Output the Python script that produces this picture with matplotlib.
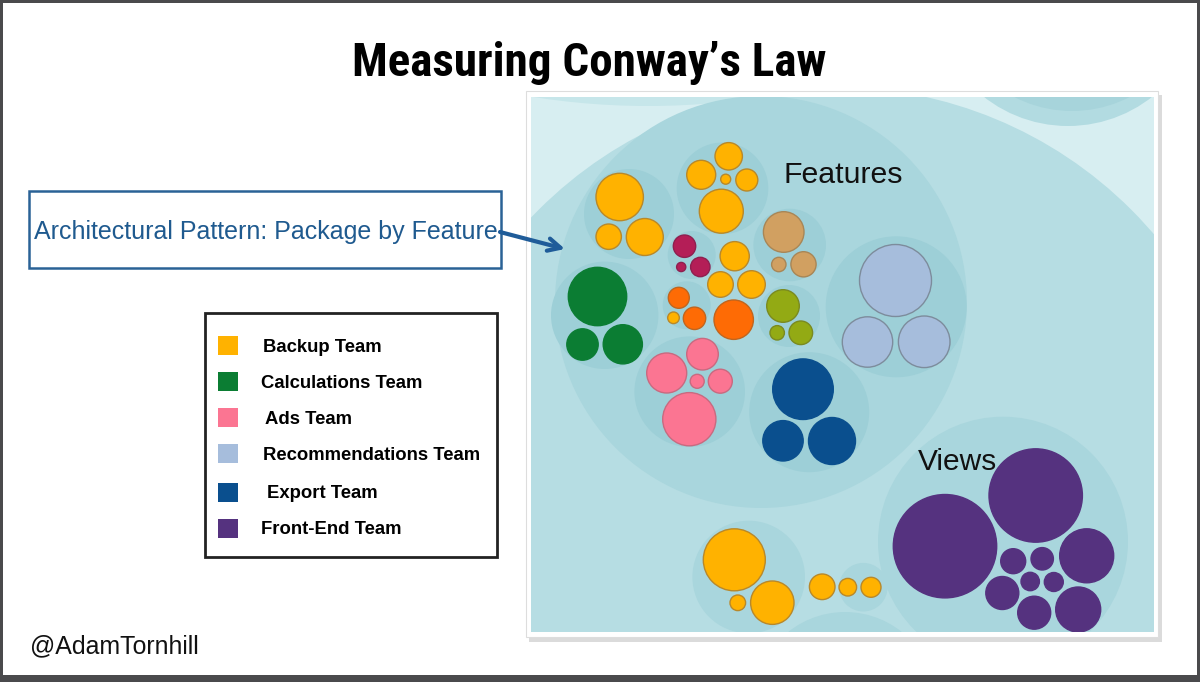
import matplotlib
matplotlib.use("Agg")
import matplotlib.pyplot as plt
from matplotlib import font_manager
from matplotlib.patches import Circle, Rectangle

# ---------------- data ----------------
title = "Measuring Conway\u2019s Law"
callout = "Architectural Pattern: Package by Feature"
credit = "@AdamTornhill"
group_labels = ["Features", "Views"]

teams = ["Backup Team", "Calculations Team", "Ads Team",
         "Recommendations Team", "Export Team", "Front-End Team"]
team_colors = ["#ffb200", "#0b7d33", "#fb7592", "#a6bddc", "#0a4f8e", "#55327f"]

# extra (unlisted) teams that appear in the packing
other_colors = {"magenta": "#b41e57", "orange": "#fe6b05", "tan": "#d1a061", "olive": "#93aa14"}

# leaf circles (x, y, r in picture units) and team key
leaf_x = [619.7, 608.7, 644.8, 728.7, 701.2, 725.7, 746.8, 721.3, 734.7, 720.5, 751.5, 673.5,
          734.3, 737.8, 772.3, 822.2, 847.8, 871.0,
          684.5, 681.2, 700.3,
          678.8, 694.5, 733.7,
          783.7, 778.8, 803.5,
          783.0, 777.2, 800.8,
          597.5, 582.5, 622.8,
          702.5, 666.7, 697.2, 720.3, 689.3,
          895.5, 867.5, 924.2,
          803.0, 783.0, 832.0,
          945.0, 1035.7, 1086.7, 1078.2, 1034.2, 1002.3, 1013.2, 1042.2, 1030.2, 1053.8]
leaf_y = [197.0, 236.7, 237.0, 156.3, 174.8, 179.2, 180.0, 211.2, 256.2, 284.5, 284.5, 317.8,
          559.8, 602.8, 602.7, 586.8, 587.2, 587.3,
          246.2, 267.0, 267.0,
          297.8, 318.3, 319.7,
          232.0, 264.5, 264.3,
          306.0, 332.8, 332.8,
          296.5, 344.5, 344.3,
          354.2, 373.0, 381.3, 381.2, 419.2,
          280.5, 342.0, 341.8,
          389.2, 440.8, 441.0,
          546.2, 495.5, 555.8, 609.5, 612.7, 593.0, 561.2, 558.8, 581.5, 582.0]
leaf_r = [23.7, 12.7, 18.5, 13.7, 14.5, 5.0, 11.0, 22.0, 14.6, 12.8, 13.8, 5.8,
          31.0, 7.8, 21.7, 12.8, 8.8, 10.0,
          11.2, 4.6, 9.7,
          10.5, 11.2, 19.7,
          20.3, 7.2, 12.6,
          16.3, 7.2, 11.8,
          29.2, 15.7, 19.6,
          15.8, 20.0, 7.0, 12.0, 26.6,
          36.0, 25.2, 25.8,
          30.3, 20.2, 23.5,
          51.7, 46.7, 27.0, 22.5, 16.5, 16.5, 12.5, 11.2, 9.2, 9.5]
leaf_team = (["Backup Team"] * 18 + ["magenta"] * 3 + ["orange"] * 3 + ["tan"] * 3 +
             ["olive"] * 3 + ["Calculations Team"] * 3 + ["Ads Team"] * 5 +
             ["Recommendations Team"] * 3 + ["Export Team"] * 3 + ["Front-End Team"] * 10)

# enclosing (package) circles: x, y, r, depth
cont_x = [835, 648, 1068, 1072, 761, 1003, 748.7, 863.3, 845,
          629, 722.5, 691.7, 789.7, 896.2, 809.2, 789, 604.7, 686.7, 689.7]
cont_y = [506, -629, -10, -15, 302, 541.7, 577, 587.2, 703,
          214, 188.3, 255, 245, 306.8, 412.2, 316, 315.3, 305.3, 391.7]
cont_r = [419, 735, 136, 126, 206, 125, 56.3, 24.3, 91,
          45, 45.8, 24, 36.3, 70.5, 60, 31, 53.7, 24, 55.3]
cont_depth = [1, 1, 1, 2, 2, 2, 2, 2, 2,
              3, 3, 3, 3, 3, 3, 3, 3, 3, 3]

# ---------------- figure ----------------
W, H = 1200, 682
fig = plt.figure(figsize=(W / 100, H / 100), dpi=100)
fig.patch.set_facecolor("#4a4a4c")
bg = fig.add_axes([0, 0, 1, 1])
bg.set_xlim(0, W)
bg.set_ylim(H, 0)
bg.axis("off")
bg.add_patch(Rectangle((3, 3), W - 6, H - 10, facecolor="white", edgecolor="none", zorder=0))

avail = {f.name for f in font_manager.fontManager.ttflist}
def pick(names, default="DejaVu Sans"):
    for n in names:
        if n in avail:
            return n
    return default

sans = pick(["Liberation Sans", "Arial", "Helvetica", "Roboto"])
narrow = pick(["Liberation Sans Narrow", "Roboto Condensed", "Open Sans Condensed", "Roboto"])

renderer = fig.canvas.get_renderer()
def fit_text(ax, x, y, s, width, **kw):
    t = ax.text(x, y, s, fontsize=20, **kw)
    w = t.get_window_extent(renderer=renderer).width
    t.set_fontsize(20 * width / w)
    return t

# title
fit_text(bg, 589, 76, title, 474, ha="center", va="baseline",
         family=narrow, fontweight="heavy", color="black")

# callout box
bg.add_patch(Rectangle((29, 191), 472, 77, facecolor="none", edgecolor="#2a6296", lw=1.8))
fit_text(bg, 34, 239, callout, 463, ha="left", va="baseline", family=sans, color="#1f5a8f")

# legend box
bg.add_patch(Rectangle((205, 313), 292, 244, facecolor="white", edgecolor="#222222", lw=2))
leg_y = [345, 381, 417, 453, 492, 528]
leg_tx = [263, 261, 265, 263, 267, 261]
for i, (name, col) in enumerate(zip(teams, team_colors)):
    bg.add_patch(Rectangle((218, leg_y[i] - 9.5), 20, 19, facecolor=col, edgecolor="none"))
t0 = fit_text(bg, leg_tx[3], leg_y[3], teams[3], 218, ha="left", va="center_baseline",
              family=sans, fontweight="bold")
fs = t0.get_fontsize()
for i, name in enumerate(teams):
    if i == 3:
        continue
    bg.text(leg_tx[i], leg_y[i], name, fontsize=fs, ha="left", va="center_baseline",
            family=sans, fontweight="bold")

# credit
fit_text(bg, 30, 653, credit, 169, ha="left", va="baseline", family=sans, color="#111111")

# panel frame with shadow
bg.add_patch(Rectangle((529, 95), 633, 547, facecolor="#9a9a9a", edgecolor="none", alpha=0.35, zorder=1))
bg.add_patch(Rectangle((526, 91), 632, 546, facecolor="white", edgecolor="#dddddd", lw=0.8, zorder=2))

# ---------------- circle packing panel ----------------
px0, px1, py0, py1 = 531, 1154, 97, 632
pan = fig.add_axes([px0 / W, 1 - py1 / H, (px1 - px0) / W, (py1 - py0) / H])
pan.set_xlim(px0, px1)
pan.set_ylim(py1, py0)
pan.axis("off")
pan.add_patch(Rectangle((px0, py0), px1 - px0, py1 - py0, facecolor="#d7eef1", edgecolor="none", zorder=0))

depth_colors = {1: "#b6dde3", 2: "#a9d6dd", 3: "#9dcfd7"}
for i in range(len(cont_x)):
    col = depth_colors[cont_depth[i]]
    if i == 1:
        col = "#c6e6ea"
    elif i == 2:
        col = "#b2dbe1"
    elif i == 3:
        col = "#a7d4db"
    pan.add_patch(Circle((cont_x[i], cont_y[i]), cont_r[i], facecolor=col,
                         edgecolor="none", zorder=1 + cont_depth[i]))

color_of = dict(zip(teams, team_colors))
color_of.update(other_colors)
edge_of = {"Backup Team": "#b8882a", "Recommendations Team": "#7d8c9c", "Ads Team": "#c86a80",
           "magenta": "#8e2050", "orange": "#c0651e", "tan": "#a88656", "olive": "#7a8a20"}
for x, y, r, t in zip(leaf_x, leaf_y, leaf_r, leaf_team):
    pan.add_patch(Circle((x, y), r, facecolor=color_of[t],
                         edgecolor=edge_of.get(t, color_of[t]), lw=1.0, zorder=6))

fit_text(pan, 783, 183, group_labels[0], 119, ha="left", va="baseline", family=sans,
         color="#111111", zorder=8)
fit_text(pan, 918, 470, group_labels[1], 79, ha="left", va="baseline", family=sans,
         color="#111111", zorder=8)

# overlay for the hand-drawn arrow (sits above the panel)
ov = fig.add_axes([0, 0, 1, 1])
ov.set_xlim(0, W)
ov.set_ylim(H, 0)
ov.axis("off")
ov.patch.set_alpha(0)
ov.annotate("", xy=(565, 249), xytext=(500, 232),
            arrowprops=dict(arrowstyle="->,head_length=0.9,head_width=0.45", color="#1f5c99",
                            lw=3, shrinkA=0, shrinkB=0))

fig.savefig("out.png", dpi=100, facecolor=fig.get_facecolor())
